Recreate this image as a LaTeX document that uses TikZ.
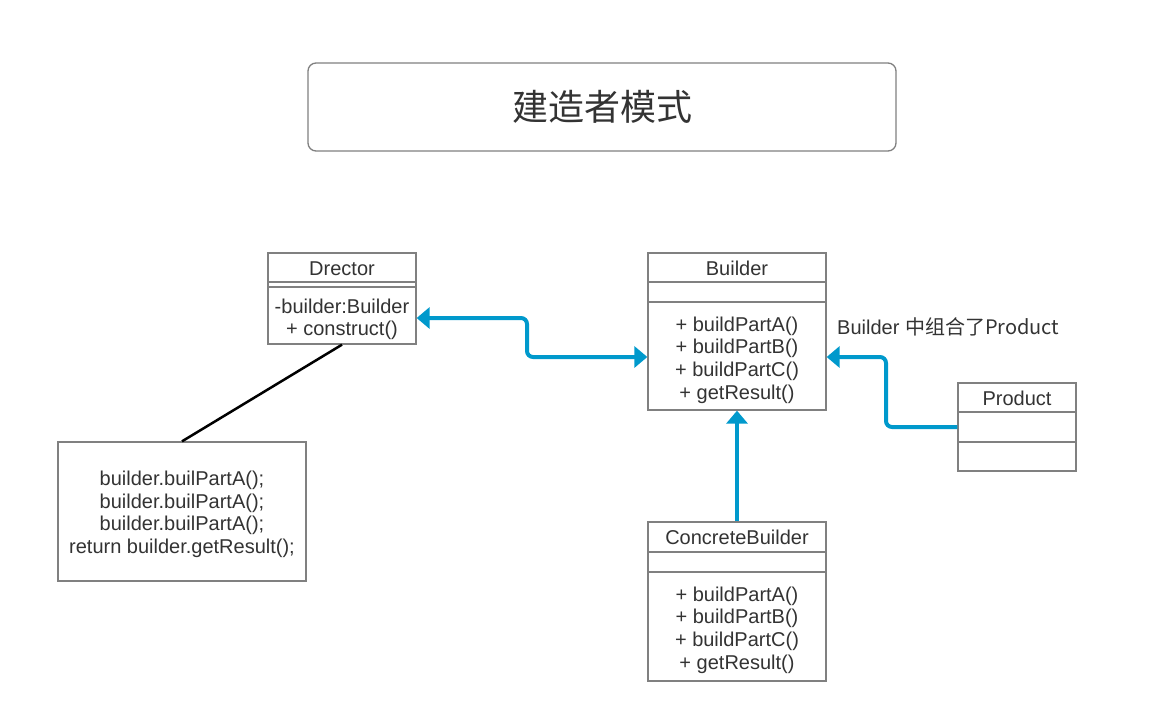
\documentclass[tikz,border=0pt]{standalone}
\usepackage{fontspec}
\setmainfont{Liberation Sans}
\newfontfamily\cjk{Noto Sans CJK SC}
\usetikzlibrary{arrows.meta}
\definecolor{boxgray}{HTML}{808080}
\definecolor{txtgray}{HTML}{333333}
\definecolor{arrowblue}{HTML}{0099CC}
\tikzset{
 box/.style={draw=boxgray, line width=1.3pt, fill=white, inner sep=0pt},
 txt/.style={text=txtgray, font=\fontsize{20}{22.6}\selectfont, inner sep=0pt, align=center},
 sepline/.style={draw=boxgray, line width=1.3pt},
 link/.style={draw=arrowblue, line width=4pt, rounded corners=6pt},
 >={Triangle[length=13pt,width=21pt]},
}
\begin{document}
\begin{tikzpicture}[x=1pt,y=-1pt]
\useasboundingbox (0,0) rectangle (1168,710);
% title
\node[box, rounded corners=8pt, minimum width=588pt, minimum height=88pt] (title) at (602,107) {};
\node[txt, font=\cjk\fontsize{36}{40}\selectfont] (titletext) at (title.center) {建造者模式};
% Drector
\node[box, minimum width=148pt, minimum height=91pt] (drector) at (342,298.5) {};
\draw[sepline] (drector.west |- 0,282) -- (drector.east |- 0,282);
\draw[sepline] (drector.west |- 0,287) -- (drector.east |- 0,287);
\node[txt] (drectorname) at (342,268.5) {Drector};
\node[txt] (drectorops) at (342,319.5) {-builder:Builder\\+ construct()};
% Builder
\node[box, minimum width=178pt, minimum height=157pt] (builder) at (737,331.5) {};
\draw[sepline] (builder.west |- 0,282) -- (builder.east |- 0,282);
\draw[sepline] (builder.west |- 0,302) -- (builder.east |- 0,302);
\node[txt] (buildername) at (737,268.5) {Builder};
\node[txt] (builderops) at (737,360) {+ buildPartA()\\+ buildPartB()\\+ buildPartC()\\+ getResult()};
% Product
\node[box, minimum width=118pt, minimum height=88pt] (product) at (1017,427) {};
\draw[sepline] (product.west |- 0,412) -- (product.east |- 0,412);
\draw[sepline] (product.west |- 0,442) -- (product.east |- 0,442);
\node[txt] (productname) at (1017,398.5) {Product};
% ConcreteBuilder
\node[box, minimum width=178pt, minimum height=159pt] (concrete) at (737,601.5) {};
\draw[sepline] (concrete.west |- 0,552) -- (concrete.east |- 0,552);
\draw[sepline] (concrete.west |- 0,572) -- (concrete.east |- 0,572);
\node[txt] (concretename) at (737,537.5) {ConcreteBuilder};
\node[txt] (concreteops) at (737,630) {+ buildPartA()\\+ buildPartB()\\+ buildPartC()\\+ getResult()};
% note
\node[box, minimum width=248pt, minimum height=139pt] (note) at (182,511.5) {};
\node[txt] (notetext) at (182,514.5) {builder.builPartA();\\builder.builPartA();\\builder.builPartA();\\return builder.getResult();};
% label
\node[txt, anchor=west] (complabel) at (837,326.5) {Builder \cjk{中组合了}Product};
% connectors
\draw[link, <->] (builder.west |- 0,357) -- (527,357) -- (527,318) -- (drector.east |- 0,318);
\draw[link, ->] (product.west) -- (886,427) -- (886,357) -- (builder.east |- 0,357);
\draw[link, ->] (concrete.north) -- (builder.south);
\draw[black, line width=2.5pt] (drector.south) -- (note.north);
\end{tikzpicture}
\end{document}
